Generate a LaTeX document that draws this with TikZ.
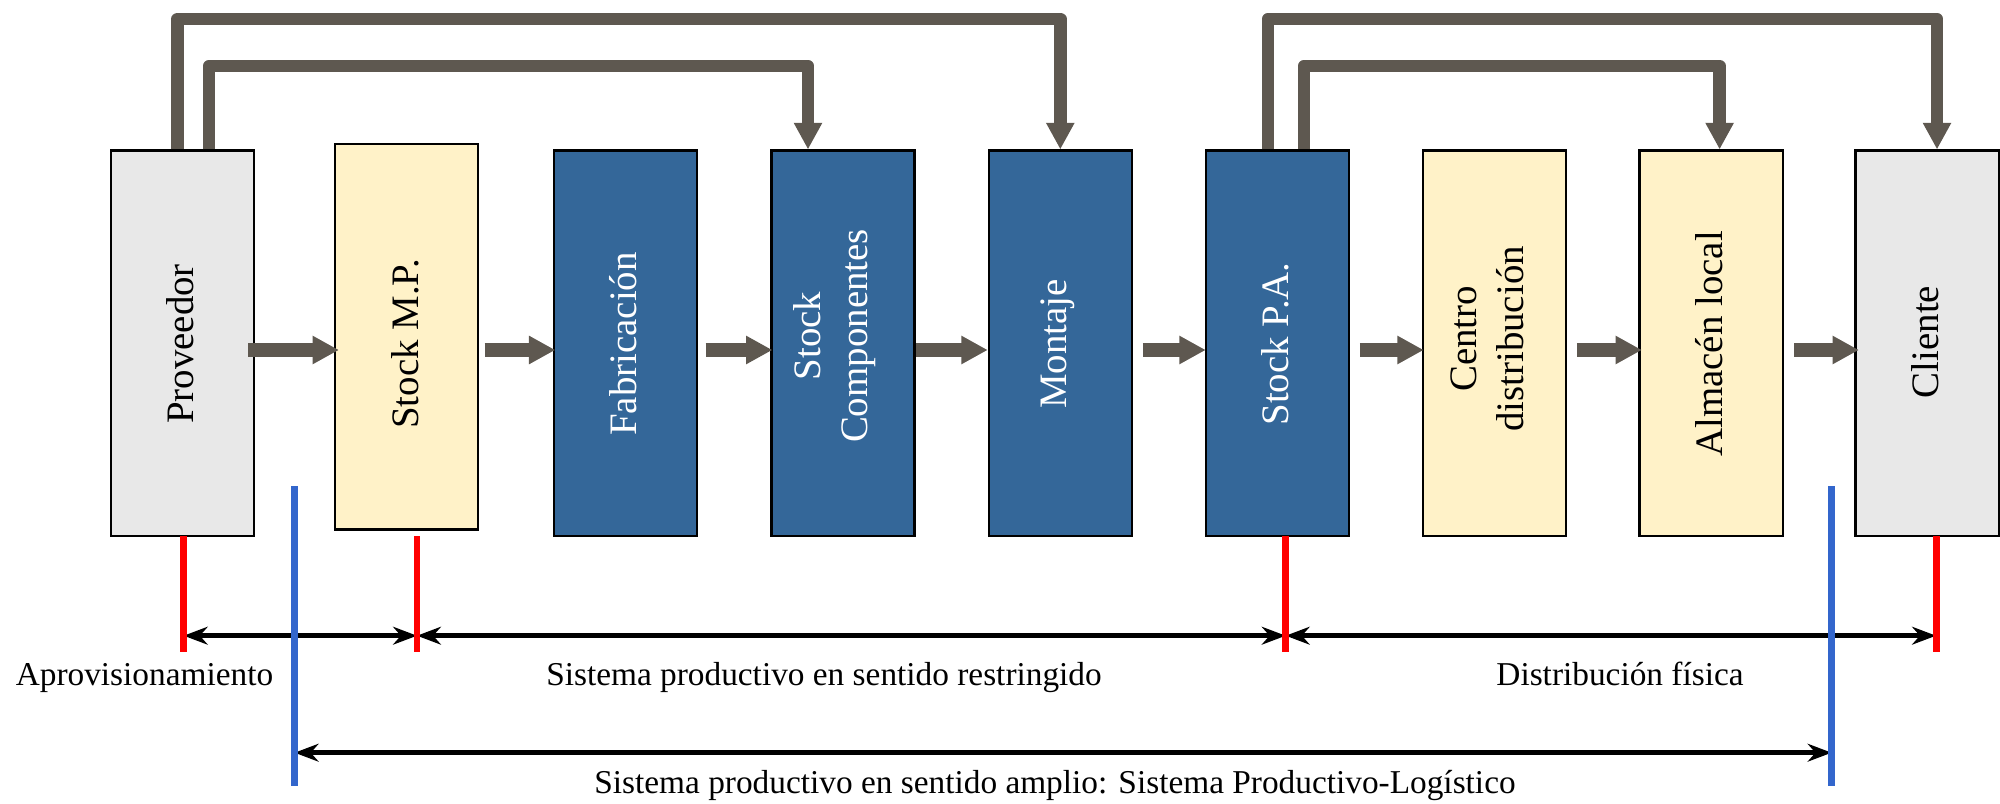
\documentclass[tikz,border=0pt]{standalone}
\usepackage{fontspec}
\setmainfont{Liberation Serif}
\usetikzlibrary{arrows.meta,calc}
\definecolor{boxgrey}{HTML}{E8E8E8}
\definecolor{boxyellow}{HTML}{FFF2C8}
\definecolor{boxblue}{HTML}{346799}
\definecolor{flowbrown}{HTML}{5E5850}
\definecolor{markred}{HTML}{FF0000}
\definecolor{markblue}{HTML}{3366CC}
\newcommand\flowarr[4]{\draw[flowarrow] ($(#1.east |- rowy)+(#3,0)$) -- ($(#2.west |- rowy)+(#4,0)$);}
\begin{document}
\begin{tikzpicture}[x=0.36pt,y=-0.36pt,
  box/.style={draw=black, line width=0.75pt, minimum width=51.5pt, minimum height=138.8pt, inner sep=0pt},
  greybox/.style={box, fill=boxgrey},
  yellowbox/.style={box, fill=boxyellow},
  bluebox/.style={box, fill=boxblue},
  boxtext/.style={rotate=90, align=center, font=\fontsize{14}{17}\selectfont, inner sep=0pt},
  darktext/.style={boxtext, text=black},
  lighttext/.style={boxtext, text=white},
  flowarrow/.style={draw=flowbrown, line width=4.8pt, -{Triangle[length=9.5pt,width=9.6pt]}},
  looparrow/.style={draw=flowbrown, line width=4.5pt, line join=round, -{Triangle[length=9.6pt,width=9.6pt]}},
  redmark/.style={draw=markred, line width=2.5pt},
  bluemark/.style={draw=markblue, line width=2.6pt},
  dimarrow/.style={draw=black, line width=1.8pt, {Stealth[length=8.6pt,width=6.4pt]}-{Stealth[length=8.6pt,width=6.4pt]}},
  captiontext/.style={font=\fontsize{12}{14}\selectfont, anchor=base, inner sep=0pt}
]
\useasboundingbox (0,0) rectangle (2000,803);

% reference coordinates
\coordinate (rowy) at (0,350);
\coordinate (topA) at (0,19);
\coordinate (topB) at (0,66);
\coordinate (boxbottom) at (0,536);
\coordinate (row1) at (0,635.7);
\coordinate (row2) at (0,752.7);

% boxes
\node[greybox]   (pv)  at (182.5,343.25) {};
\node[yellowbox] (smp) at (406.5,336.75) {};
\node[bluebox]   (fab) at (625.5,343.25) {};
\node[bluebox]   (sc)  at (843,343.25) {};
\node[bluebox]   (mo)  at (1060.3,343.25) {};
\node[bluebox]   (sp)  at (1277.3,343.25) {};
\node[yellowbox] (cd)  at (1494.3,343.25) {};
\node[yellowbox] (al)  at (1711,343.25) {};
\node[greybox]   (cl)  at (1927,343.25) {};

% box texts
\node[darktext]  (pvt)  at (180,344) {Proveedor};
\node[darktext]  (smpt) at (405,344) {Stock M.P.};
\node[lighttext] (fabt) at (623,344) {Fabricación};
\node[lighttext] (sct)  at (835,336) {Stock\\Componentes};
\node[lighttext] (mot)  at (1058,344) {Montaje};
\node[lighttext] (spt)  at (1275,344) {Stock P.A.};
\node[darktext]  (cdt)  at (1487,339) {Centro\\distribución};
\node[darktext]  (alt)  at (1709,344) {Almacén local};
\node[darktext]  (clt)  at (1925,342) {Cliente};

% feedback loops
\draw[looparrow] ($(pv.north)+(-5,0)$) |- (mo.north |- topA) -- (mo.north);
\draw[looparrow] ($(pv.north)+(26.5,0)$) |- ($(sc.north |- topB)+(-35,0)$) -- ($(sc.north)+(-35,0)$);
\draw[looparrow] ($(sp.north)+(-9.3,0)$) |- ($(cl.north |- topA)+(10,0)$) -- ($(cl.north)+(10,0)$);
\draw[looparrow] ($(sp.north)+(26.7,0)$) |- ($(al.north |- topB)+(8.6,0)$) -- ($(al.north)+(8.6,0)$);

% flow arrows
\flowarr{pv}{smp}{-7}{5}
\flowarr{smp}{fab}{5.5}{2.4}
\flowarr{fab}{sc}{7.5}{2}
\flowarr{sc}{mo}{0.5}{0}
\flowarr{mo}{sp}{10}{1}
\flowarr{sp}{cd}{10}{2}
\flowarr{cd}{al}{10}{3.5}
\flowarr{al}{cl}{10.5}{4.5}

% marker coordinates
\coordinate (rb1) at (183.7,652);
\coordinate (rb2) at (417,652);
\coordinate (rb3) at (1285.7,652);
\coordinate (rb4) at (1936,652);
\coordinate (bt1) at (294.6,486);
\coordinate (bb1) at (294.6,786);
\coordinate (bt2) at (1831.6,486);
\coordinate (bb2) at (1831.6,786);

% dimension arrows
\draw[dimarrow] (rb1 |- row1) -- (rb2 |- row1);
\draw[dimarrow] (rb2 |- row1) -- (rb3 |- row1);
\draw[dimarrow] (rb3 |- row1) -- (rb4 |- row1);
\draw[dimarrow] (bb1 |- row2) -- (bb2 |- row2);

% red markers
\draw[redmark] (rb1 |- boxbottom) -- (rb1);
\draw[redmark] (rb2 |- boxbottom) -- (rb2);
\draw[redmark] (rb3 |- boxbottom) -- (rb3);
\draw[redmark] (rb4 |- boxbottom) -- (rb4);

% blue markers
\draw[bluemark] (bt1) -- (bb1);
\draw[bluemark] (bt2) -- (bb2);

% captions
\node[captiontext] (lap) at (144.5,685) {Aprovisionamiento};
\node[captiontext] (lsr) at (824,685) {Sistema productivo en sentido restringido};
\node[captiontext] (ldf) at (1620,685) {Distribución física};
\node[captiontext] (lsa) at (1055,793) {Sistema productivo en sentido amplio: Sistema Productivo-Logístico};
\end{tikzpicture}
\end{document}
